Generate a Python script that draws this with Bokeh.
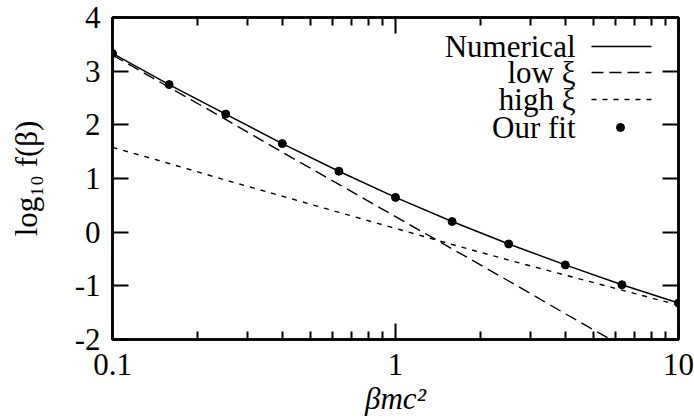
from bokeh.plotting import figure
from bokeh.models import FixedTicker, CustomJSTickFormatter, LogAxis, LinearAxis, Label
from bokeh.embed import file_html
from bokeh.resources import INLINE

# ---- data ----
beta = [0.1, 0.1585, 0.2512, 0.3981, 0.631, 1.0, 1.585, 2.512, 3.981, 6.31, 10.0]
numerical = [3.33, 2.75, 2.20, 1.65, 1.135, 0.648, 0.198, -0.22, -0.61, -0.98, -1.32]
low_xi = [3.30, 2.70, 2.10, 1.49, 0.89, 0.29, -0.31, -0.91, -1.52, -2.12, -2.72]
high_xi = [1.58, 1.28, 0.97, 0.67, 0.37, 0.07, -0.23, -0.52, -0.80, -1.08, -1.36]
fit_beta = [0.1, 0.1585, 0.2512, 0.3981, 0.631, 1.0, 1.585, 2.512, 3.981, 6.31, 10.0]
our_fit = [3.33, 2.75, 2.20, 1.65, 1.135, 0.648, 0.198, -0.22, -0.61, -0.98, -1.32]

x_ticks = [0.1, 1, 10]
x_minor = [0.2, 0.3, 0.4, 0.5, 0.6, 0.7, 0.8, 0.9, 2, 3, 4, 5, 6, 7, 8, 9]
y_ticks = [-2, -1, 0, 1, 2, 3, 4]
legend_labels = ["Numerical", "low ξ", "high ξ", "Our fit"]
x_label = "βmc²"
y_label = "log₁₀ f(β)"

# ---- layout ----
FONT = "Liberation Serif"
FS = "31px"
W, H = 694, 418
FL, FR, FT, FB = 112, 678, 17, 339  # frame edges in figure pixels


def px2x(px):
    return 10 ** (-1 + 2 * (px - FL) / (FR - FL))


def py2y(py):
    return 4 - 6 * (py - FT) / (FB - FT)


p = figure(width=W, height=H, x_axis_type="log", x_range=(0.1, 10), y_range=(-2, 4),
           output_backend="svg", toolbar_location=None,
           min_border_left=FL, min_border_right=W - FR,
           min_border_top=FT, min_border_bottom=H - FB)
p.grid.visible = False
p.outline_line_color = "black"
p.outline_line_width = 2.5
p.background_fill_color = "white"
p.border_fill_color = "white"

xticker = FixedTicker(ticks=x_ticks, minor_ticks=x_minor)
yticker = FixedTicker(ticks=y_ticks, minor_ticks=[])
fmt = CustomJSTickFormatter(code="return String(tick);")


def style(ax, show_labels, standoff=12):
    ax.axis_line_color = "black"
    ax.axis_line_width = 2.5
    ax.major_tick_in = 16
    ax.major_tick_out = 0
    ax.minor_tick_in = 8
    ax.minor_tick_out = 0
    ax.major_tick_line_width = 2
    ax.minor_tick_line_width = 2
    ax.major_tick_line_color = "black"
    ax.minor_tick_line_color = "black"
    if show_labels:
        ax.major_label_text_font = FONT
        ax.major_label_text_font_size = FS
        ax.major_label_text_color = "black"
        ax.major_label_standoff = standoff
    else:
        ax.major_label_text_font_size = "1px"
        ax.major_label_text_color = None
        ax.major_label_standoff = 0


xa = p.xaxis[0]
xa.ticker = xticker
xa.formatter = fmt
style(xa, True, 14)
xa.axis_label = x_label
xa.axis_label_text_font = FONT
xa.axis_label_text_font_size = FS
xa.axis_label_text_font_style = "italic"
xa.axis_label_text_color = "black"
xa.axis_label_standoff = 3

ya = p.yaxis[0]
ya.ticker = yticker
ya.formatter = fmt
style(ya, True, 12)
ya.axis_label = y_label
ya.axis_label_text_font = FONT
ya.axis_label_text_font_size = FS
ya.axis_label_text_font_style = "normal"
ya.axis_label_text_color = "black"
ya.axis_label_standoff = 28

top = LogAxis(ticker=xticker, formatter=fmt)
style(top, False)
p.add_layout(top, "above")
right = LinearAxis(ticker=yticker, formatter=fmt)
style(right, False)
p.add_layout(right, "right")

# ---- series ----
p.line(beta, numerical, line_color="black", line_width=1.5)
p.line(beta, low_xi, line_color="black", line_width=1.4, line_dash="12 6")
p.line(beta, high_xi, line_color="black", line_width=1.4, line_dash="5 6")
p.scatter(fit_beta, our_fit, size=8, color="black")

# ---- legend (gnuplot style: text then sample) ----
rows = [46, 72, 99, 127]
for lab, py in zip(legend_labels, rows):
    p.add_layout(Label(x=px2x(575), y=py2y(py), text=lab, text_font=FONT, text_font_size=FS,
                       text_align="right", text_baseline="middle", text_color="black"))
sx0, sx1 = px2x(591), px2x(651)
p.segment(x0=[sx0], y0=[py2y(rows[0])], x1=[sx1], y1=[py2y(rows[0])], line_color="black", line_width=1.5)
p.segment(x0=[sx0], y0=[py2y(rows[1])], x1=[sx1], y1=[py2y(rows[1])], line_color="black", line_width=1.4, line_dash="12 6")
p.segment(x0=[sx0], y0=[py2y(rows[2])], x1=[sx1], y1=[py2y(rows[2])], line_color="black", line_width=1.4, line_dash="5 6")
p.scatter(x=[px2x(620)], y=[py2y(rows[3])], size=8, color="black")

open("out.html", "w").write(file_html(p, INLINE))
